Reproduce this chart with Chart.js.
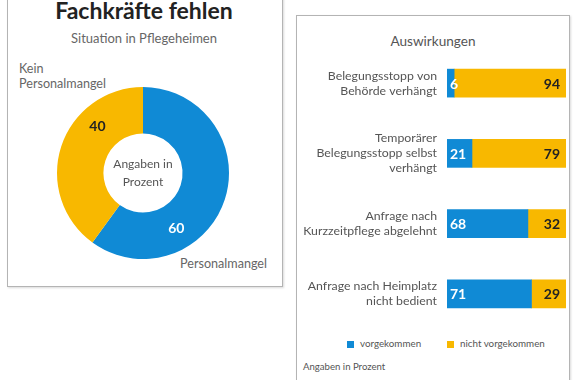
<!DOCTYPE html>
<html><head><meta charset="utf-8">
<script src="https://cdn.jsdelivr.net/npm/chart.js@4"></script>
<style>
html,body{margin:0;padding:0;background:#fff;width:576px;height:380px;overflow:hidden;font-family:Lato,"Open Sans",sans-serif;}
.box{position:absolute;border:1.5px solid #b4b4b4;box-shadow:1px 1px 2px rgba(0,0,0,0.15);background:#fff;}
.t{position:absolute;white-space:nowrap;color:#555;}
canvas{position:absolute;}
</style></head><body>
<div class="box" style="left:7px;top:-6px;width:274px;height:291px;"></div>
<div class="box" style="left:296px;top:15px;width:272px;height:380px;"></div>
<div class="t" style="left:0;width:288px;text-align:center;top:-4px;font-size:23px;font-weight:bold;color:#222;">Fachkräfte fehlen</div>
<div class="t" style="left:0;width:288px;text-align:center;top:30px;font-size:13px;color:#666;">Situation in Pflegeheimen</div>
<div class="t" style="left:19px;top:61px;font-size:12.6px;line-height:15px;color:#666;">Kein<br>Personalmangel</div>
<div class="t" style="left:180px;top:256px;font-size:12.6px;color:#666;">Personalmangel</div>
<div class="t" style="left:296px;width:274px;text-align:center;top:33px;font-size:13.6px;color:#555;">Auswirkungen</div>
<div id="legend"></div>
<div class="t" style="left:303px;top:361px;font-size:9.6px;color:#555;">Angaben in Prozent</div>
<canvas id="donut" width="274" height="236" style="left:8px;top:50px;width:274px;height:236px;"></canvas>
<canvas id="bars" width="266" height="281" style="left:300px;top:48px;width:266px;height:281px;"></canvas>
<script>
const donutLabels = ["Personalmangel", "Kein Personalmangel"];
const donutValues = [60, 40];
const donutCenterText = ["Angaben in", "Prozent"];

const barCategories = [
  ["Belegungsstopp von", "Behörde verhängt"],
  ["Temporärer", "Belegungsstopp selbst", "verhängt"],
  ["Anfrage nach", "Kurzzeitpflege abgelehnt"],
  ["Anfrage nach Heimplatz", "nicht bedient"]
];
const seriesNames = ["vorgekommen", "nicht vorgekommen"];
const vorgekommen = [6, 21, 68, 71];
const nichtVorgekommen = [94, 79, 32, 29];

const BLUE = "#108ad5";
const YELLOW = "#f8b800";
const FONT = "Lato, 'Open Sans', sans-serif";

// legend (HTML)
const leg = document.getElementById("legend");
const legX = [347, 447];
seriesNames.forEach((n, i) => {
  const sw = document.createElement("div");
  sw.style.cssText = `position:absolute;left:${legX[i]}px;top:341px;width:7px;height:7px;background:${i ? YELLOW : BLUE};`;
  leg.appendChild(sw);
  const tx = document.createElement("div");
  tx.className = "t";
  tx.style.cssText = `left:${legX[i] + 13}px;top:337px;font-size:9.8px;color:#555;`;
  tx.textContent = n;
  leg.appendChild(tx);
});

const donutLabelPlugin = {
  id: "donutLabels",
  afterDatasetsDraw(chart) {
    const ctx = chart.ctx;
    const meta = chart.getDatasetMeta(0);
    ctx.save();
    ctx.textAlign = "center";
    ctx.textBaseline = "middle";
    meta.data.forEach((arc, i) => {
      const a = arc.startAngle + (arc.endAngle - arc.startAngle) * 0.69;
      const r = (arc.innerRadius + arc.outerRadius) / 2 + 2;
      const x = arc.x + Math.cos(a) * r;
      const y = arc.y + Math.sin(a) * r;
      ctx.font = "bold 14px " + FONT;
      ctx.fillStyle = i === 0 ? "#ffffff" : "#222222";
      ctx.fillText(String(donutValues[i]), x, y);
    });
    const c = meta.data[0];
    ctx.font = "12px " + FONT;
    ctx.fillStyle = "#555";
    ctx.fillText(donutCenterText[0], c.x, c.y - 9);
    ctx.fillText(donutCenterText[1], c.x, c.y + 9);
    ctx.restore();
  }
};

new Chart(document.getElementById("donut"), {
  type: "doughnut",
  data: {
    labels: donutLabels,
    datasets: [{ data: donutValues, backgroundColor: [BLUE, YELLOW], borderWidth: 0 }]
  },
  options: {
    responsive: false, animation: false, cutout: "46%",
    layout: { padding: { left: 49, right: 53, top: 37, bottom: 27 } },
    plugins: { legend: { display: false }, tooltip: { enabled: false } }
  },
  plugins: [donutLabelPlugin]
});

const barLabelPlugin = {
  id: "barLabels",
  afterDatasetsDraw(chart) {
    const ctx = chart.ctx;
    ctx.save();
    ctx.textBaseline = "middle";
    // category labels, right-aligned
    const ys = chart.scales.y;
    ctx.font = "12.3px " + FONT;
    ctx.fillStyle = "#555";
    ctx.textAlign = "right";
    const lh = 15;
    barCategories.forEach((lines, i) => {
      const cy = ys.getPixelForTick(i);
      const y0 = cy - (lines.length - 1) * lh / 2;
      lines.forEach((ln, k) => ctx.fillText(ln, chart.chartArea.left - 10, y0 + k * lh));
    });
    ctx.font = "bold 14px " + FONT;
    const m0 = chart.getDatasetMeta(0), m1 = chart.getDatasetMeta(1);
    m0.data.forEach((b, i) => {
      ctx.textAlign = "left";
      ctx.fillStyle = "#fff";
      ctx.fillText(String(vorgekommen[i]), b.base + 3, b.y + 1);
    });
    m1.data.forEach((b, i) => {
      ctx.textAlign = "right";
      ctx.fillStyle = "#222";
      ctx.fillText(String(nichtVorgekommen[i]), b.x - 6, b.y + 1);
    });
    ctx.restore();
  }
};

new Chart(document.getElementById("bars"), {
  type: "bar",
  data: {
    labels: barCategories,
    datasets: [
      { label: seriesNames[0], data: vorgekommen, backgroundColor: BLUE, barThickness: 28, borderWidth: 0 },
      { label: seriesNames[1], data: nichtVorgekommen, backgroundColor: YELLOW, barThickness: 28, borderWidth: 0 }
    ]
  },
  options: {
    indexAxis: "y", responsive: false, animation: false,
    layout: { padding: 0 },
    scales: {
      x: { stacked: true, min: 0, max: 100, display: false },
      y: {
        stacked: true,
        grid: { display: false }, border: { display: false },
        ticks: { display: false },
        afterFit(s) { s.width = 147; }
      }
    },
    plugins: { legend: { display: false }, tooltip: { enabled: false } }
  },
  plugins: [barLabelPlugin]
});
</script>
</body></html>
